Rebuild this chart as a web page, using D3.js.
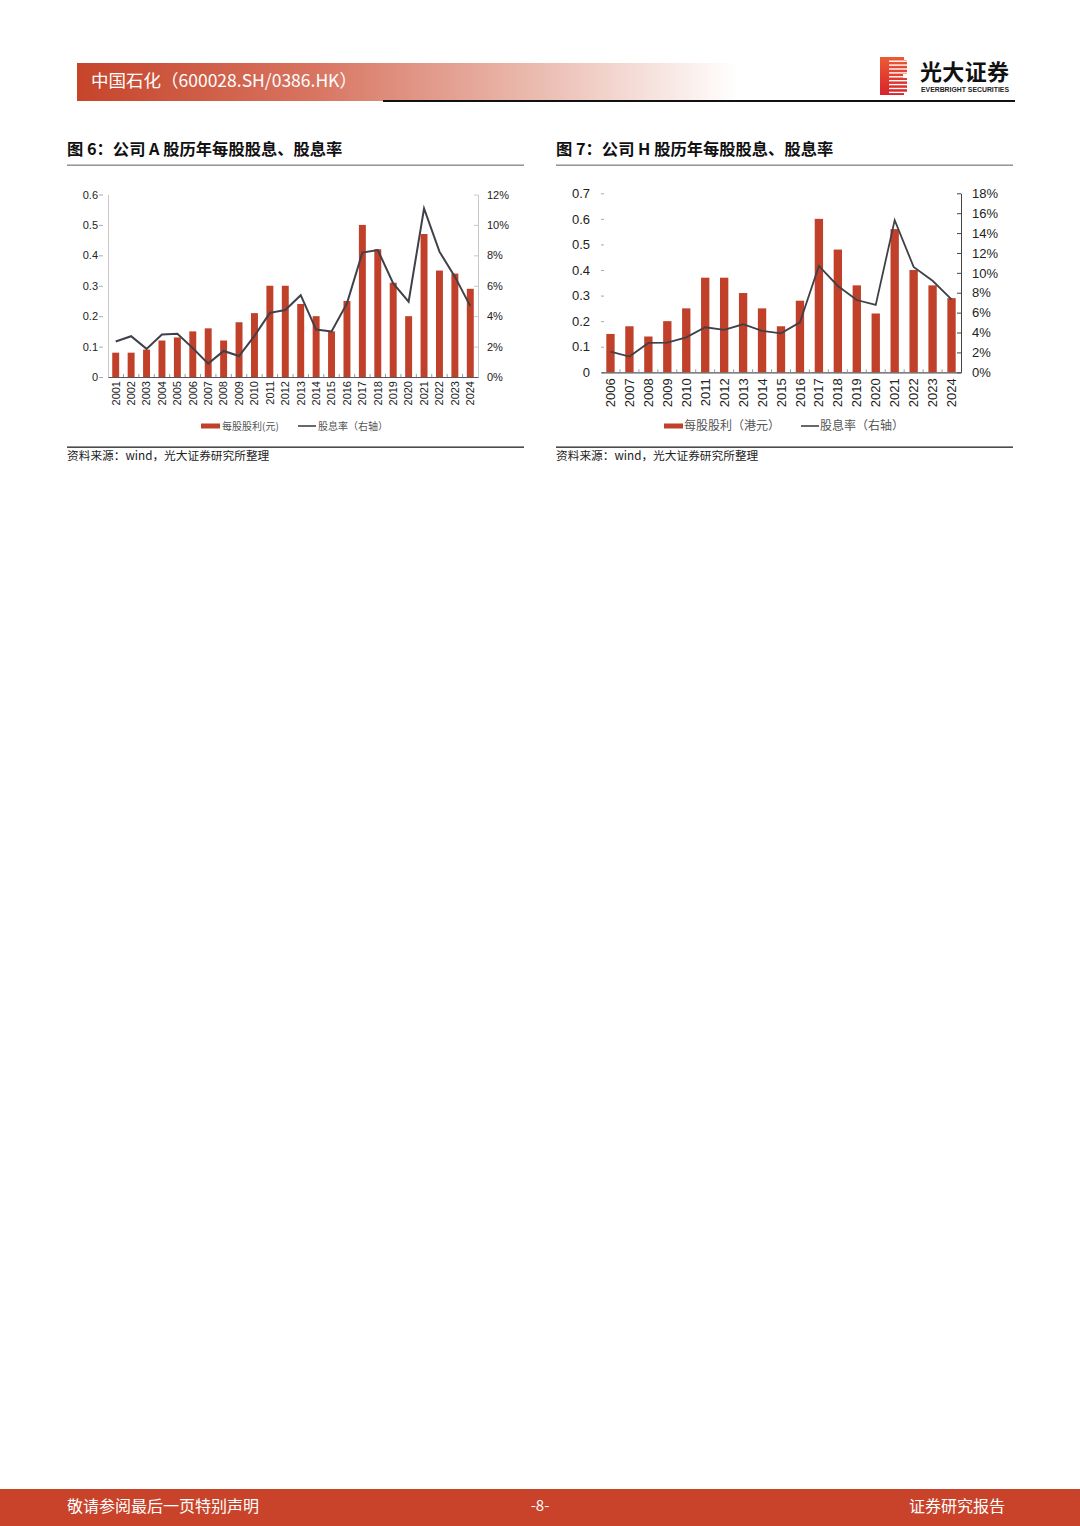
<!DOCTYPE html>
<html><head><meta charset="utf-8">
<script src="https://cdn.jsdelivr.net/npm/d3@7"></script>
<style>
html,body{margin:0;padding:0;background:#fff;}
svg{display:block;}
</style></head>
<body>
<svg id="page" width="1080" height="1526"></svg>
<script>
// ---- Data ----
const yearsA = ["2001","2002","2003","2004","2005","2006","2007","2008","2009","2010","2011","2012","2013","2014","2015","2016","2017","2018","2019","2020","2021","2022","2023","2024"];
const dpsA = [0.08,0.08,0.09,0.12,0.13,0.15,0.16,0.12,0.18,0.21,0.30,0.30,0.24,0.20,0.15,0.25,0.50,0.42,0.31,0.20,0.47,0.35,0.34,0.29];
const yieldA = [2.33,2.68,1.85,2.79,2.84,1.90,0.88,1.71,1.38,2.70,4.22,4.40,5.38,3.12,3.00,4.84,8.18,8.35,6.15,4.95,11.08,8.24,6.60,4.66];
const leftTicksA = [0,0.1,0.2,0.3,0.4,0.5,0.6];
const rightTicksA = [0,2,4,6,8,10,12];

const yearsH = ["2006","2007","2008","2009","2010","2011","2012","2013","2014","2015","2016","2017","2018","2019","2020","2021","2022","2023","2024"];
const dpsH = [0.15,0.18,0.14,0.20,0.25,0.37,0.37,0.31,0.25,0.18,0.28,0.60,0.48,0.34,0.23,0.56,0.40,0.34,0.29];
const yieldH = [2.08,1.58,2.95,2.98,3.52,4.53,4.26,4.83,4.16,3.92,5.03,10.70,8.68,7.27,6.77,15.30,10.60,9.20,7.34];
const leftTicksH = [0,0.1,0.2,0.3,0.4,0.5,0.6,0.7];
const rightTicksH = [0,2,4,6,8,10,12,14,16,18];

const seriesNamesA = ["每股股利(元)","股息率（右轴）"];
const seriesNamesH = ["每股股利（港元）","股息率（右轴）"];

const BAR = "#c0402a";
const LINE = "#40404a";
const CJK = "'Noto Sans CJK SC','Noto Sans',sans-serif";
const LAT = "'Liberation Sans',Arial,sans-serif";

const svg = d3.select("#page");

// ---- Header ----
const defs = svg.append("defs");
const hg = defs.append("linearGradient").attr("id","hdr").attr("x1","0").attr("x2","1").attr("y1","0").attr("y2","0");
hg.append("stop").attr("offset","0%").attr("stop-color","#c6442a");
hg.append("stop").attr("offset","35%").attr("stop-color","#d7735f");
hg.append("stop").attr("offset","70%").attr("stop-color","#ebbcb1");
hg.append("stop").attr("offset","100%").attr("stop-color","#ffffff");
svg.append("rect").attr("x",77).attr("y",63).attr("width",660).attr("height",38).attr("fill","url(#hdr)");
svg.append("text").attr("x",91).attr("y",87).attr("font-family",CJK).attr("font-size",17.5).attr("font-weight",400)
  .attr("fill","#fff").text("中国石化（600028.SH/0386.HK）");
svg.append("rect").attr("x",383).attr("y",100).attr("width",632).attr("height",2).attr("fill","#111");

// logo
const lg = defs.append("linearGradient").attr("id","logo").attr("x1","0").attr("x2","0").attr("y1","0").attr("y2","1");
lg.append("stop").attr("offset","0%").attr("stop-color","#ec5a34");
lg.append("stop").attr("offset","100%").attr("stop-color","#d8232c");
svg.append("rect").attr("x",880).attr("y",57).attr("width",27).attr("height",38).attr("fill","url(#logo)");
for (let i=0;i<9;i++){
  svg.append("rect").attr("x",889).attr("y",60.5+i*3.9).attr("width",18).attr("height",1.4).attr("fill","#fff");
}
svg.append("rect").attr("x",903).attr("y",74).attr("width",4).attr("height",4).attr("fill","#fff");
svg.append("rect").attr("x",904).attr("y",57).attr("width",3).attr("height",3).attr("fill","#fff");
svg.append("rect").attr("x",904).attr("y",92).attr("width",3).attr("height",3).attr("fill","#fff");
svg.append("text").attr("x",920).attr("y",80).attr("font-family",CJK).attr("font-size",22).attr("font-weight",700)
  .attr("fill","#111").attr("textLength",89).text("光大证券");
svg.append("text").attr("x",921).attr("y",92).attr("font-family",LAT).attr("font-size",7).attr("font-weight",700)
  .attr("fill","#222").attr("textLength",88).attr("lengthAdjust","spacingAndGlyphs").text("EVERBRIGHT SECURITIES");

// ---- Titles ----
function title(x, x2, txt){
  svg.append("text").attr("x",x).attr("y",155).attr("font-family",CJK).attr("font-size",16.3).attr("font-weight",700)
    .attr("fill","#111").text(txt);
  svg.append("rect").attr("x",x).attr("y",164.5).attr("width",x2-x).attr("height",1.4).attr("fill","#8a8a8a");
}
title(67,524,"图 6：公司 A 股历年每股股息、股息率");
title(556,1013,"图 7：公司 H 股历年每股股息、股息率");

function source(x, x2){
  svg.append("rect").attr("x",x).attr("y",446.5).attr("width",x2-x).attr("height",1.3).attr("fill","#222");
  svg.append("text").attr("x",x).attr("y",460).attr("font-family",CJK).attr("font-size",11.7)
    .attr("fill","#222").text("资料来源：wind，光大证券研究所整理");
}
source(67,524);
source(556,1013);

// ---- Chart builder ----
function chart(o){
  const g = svg.append("g");
  const x = d3.scaleBand().domain(o.years).range([o.x0,o.x1]).paddingInner(o.pad).paddingOuter(o.pad/2);
  const yL = d3.scaleLinear().domain([0,o.lMax]).range([o.y0,o.yTop]);
  const yR = d3.scaleLinear().domain([0,o.rMax]).range([o.y0,o.yTop]);

  // left axis
  const aL = g.append("g").attr("transform",`translate(${o.x0},0)`)
    .call(d3.axisLeft(yL).tickValues(o.lTicks).tickFormat(d=>d===0?"0":d3.format(".1f")(d)).tickSize(0).tickPadding(o.lPad));
  aL.select(".domain").attr("stroke",o.lAxisColor).attr("stroke-width",1);
  aL.selectAll(".tick line").attr("x1",o.lt1).attr("x2",o.lt2).attr("stroke","#aaa");
  aL.selectAll(".tick text").attr("font-family",LAT).attr("font-size",o.fs).attr("fill","#222");

  // right axis
  const aR = g.append("g").attr("transform",`translate(${o.x1},0)`)
    .call(d3.axisRight(yR).tickValues(o.rTicks).tickFormat(d=>d+"%").tickSize(0).tickPadding(o.rPad));
  aR.select(".domain").attr("stroke",o.rAxisColor).attr("stroke-width",1);
  aR.selectAll(".tick line").attr("x1",-4).attr("x2",0).attr("stroke",o.rAxisColor);
  aR.selectAll(".tick text").attr("font-family",LAT).attr("font-size",o.fs).attr("fill","#222");

  // bars
  const bw = x.bandwidth();
  g.append("g").selectAll("rect").data(o.dps).join("rect")
    .attr("x",(d,i)=>x(o.years[i])).attr("width",bw)
    .attr("y",d=>yL(d)).attr("height",d=>o.y0-yL(d)).attr("fill",BAR);

  // x axis
  const aX = g.append("g").attr("transform",`translate(0,${o.y0})`)
    .call(d3.axisBottom(x).tickSize(0).tickSizeOuter(0).tickPadding(0));
  aX.select(".domain").attr("stroke","#555").attr("stroke-width",1.2);
  aX.selectAll(".tick text").attr("font-family",LAT).attr("font-size",o.fs).attr("fill","#222")
    .attr("text-anchor","end").attr("transform","rotate(-90)").attr("x",-o.xPad).attr("y",0).attr("dy","0.35em");
  // separators between categories
  const step = x.step();
  g.append("g").selectAll("line").data(o.years.slice(1)).join("line")
    .attr("x1",d=>x(d)-(step-bw)/2).attr("x2",d=>x(d)-(step-bw)/2)
    .attr("y1",o.y0-3).attr("y2",o.y0).attr("stroke","#999").attr("stroke-width",1);

  // line
  const line = d3.line().x((d,i)=>x(o.years[i])+bw/2).y(d=>yR(d));
  g.append("path").datum(o.yld).attr("d",line).attr("fill","none").attr("stroke",LINE)
    .attr("stroke-width",o.lw).attr("stroke-linejoin","miter");

  // legend
  const L = o.legend;
  g.append("rect").attr("x",L.r0).attr("y",L.y-2.5).attr("width",L.r1-L.r0).attr("height",5).attr("fill",BAR);
  g.append("text").attr("x",L.t0).attr("y",L.y).attr("dy","0.35em").attr("font-family",CJK).attr("font-size",L.fs)
    .attr("fill","#555").text(o.names[0]);
  g.append("line").attr("x1",L.l0).attr("x2",L.l1).attr("y1",L.y).attr("y2",L.y).attr("stroke",LINE).attr("stroke-width",1.6);
  g.append("text").attr("x",L.t1).attr("y",L.y).attr("dy","0.35em").attr("font-family",CJK).attr("font-size",L.fs)
    .attr("fill","#555").text(o.names[1]);
}

chart({
  years:yearsA, dps:dpsA, yld:yieldA, names:seriesNamesA,
  x0:108, x1:478, y0:377, yTop:194.5, lMax:0.6, rMax:12,
  lTicks:leftTicksA, rTicks:rightTicksA, pad:0.55,
  fs:11, lPad:10, rPad:9, lt1:-5, lt2:-9, xPad:4, lw:2,
  lAxisColor:"#c8c8c8", rAxisColor:"#c8c8c8",
  legend:{y:426, r0:201, r1:220, t0:222, l0:298, l1:316, t1:318, fs:10}
});

chart({
  years:yearsH, dps:dpsH, yld:yieldH, names:seriesNamesH,
  x0:601, x1:961, y0:372.3, yTop:193.3, lMax:0.7, rMax:18,
  lTicks:leftTicksH, rTicks:rightTicksH, pad:0.56,
  fs:13, lPad:11, rPad:11, lt1:0, lt2:3, xPad:6, lw:1.8,
  lAxisColor:"none", rAxisColor:"#444",
  legend:{y:426, r0:664, r1:683, t0:684, l0:801, l1:819, t1:820, fs:12}
});

// ---- Footer ----
svg.append("rect").attr("x",0).attr("y",1489).attr("width",1080).attr("height",37).attr("fill","#c8432a");
svg.append("text").attr("x",67).attr("y",1506).attr("dy","0.35em").attr("font-family",CJK).attr("font-size",16)
  .attr("fill","#fff").text("敬请参阅最后一页特别声明");
svg.append("text").attr("x",540).attr("y",1506).attr("dy","0.35em").attr("text-anchor","middle").attr("font-family",CJK).attr("font-size",15)
  .attr("fill","#fff").text("-8-");
svg.append("text").attr("x",1005).attr("y",1506).attr("dy","0.35em").attr("text-anchor","end").attr("font-family",CJK).attr("font-size",16)
  .attr("fill","#fff").text("证券研究报告");
</script>
</body></html>
